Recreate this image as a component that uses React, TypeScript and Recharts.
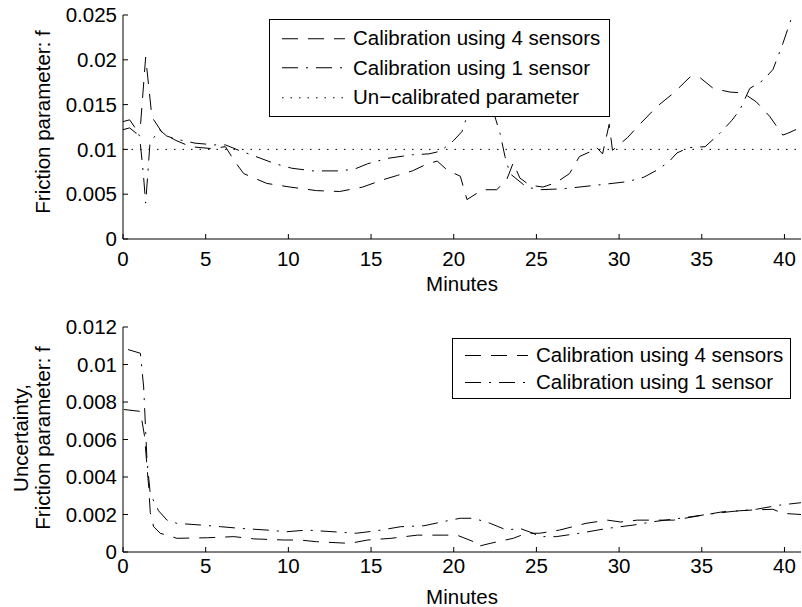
import React from 'react';
import { LineChart, Line, XAxis, YAxis, Legend } from 'recharts';

// minutes / friction values
const fourTopMin = [0, 0.4, 0.8, 1.05, 1.37, 1.75, 2.4, 3.2, 4.1, 5.3, 6.2, 6.7, 7.3, 8.7, 10.1, 11.7, 13.1, 14.5, 15.7, 16.6, 17.5, 18.3, 19.0, 19.6, 20.4, 20.8, 21.4, 21.8, 22.6, 23.2, 23.6, 24.0, 24.6, 25.4, 26.2, 27.0, 27.6, 28.2, 28.6, 29.0, 29.4, 29.6, 30.5, 31.3, 32.3, 33.3, 34.3, 34.9, 35.7, 36.7, 37.5, 38.3, 39.1, 39.9, 40.2, 40.8];
const fourTopF = [0.0122, 0.0124, 0.0118, 0.0125, 0.0203, 0.0136, 0.0118, 0.011, 0.0103, 0.0101, 0.0103, 0.0088, 0.0073, 0.0062, 0.0058, 0.0054, 0.0053, 0.0058, 0.0066, 0.0071, 0.0076, 0.0083, 0.0087, 0.0077, 0.007, 0.0044, 0.0051, 0.0055, 0.0055, 0.0066, 0.0085, 0.0068, 0.006, 0.0058, 0.0063, 0.0073, 0.0092, 0.0097, 0.0103, 0.0095, 0.0128, 0.0099, 0.0113, 0.0129, 0.0148, 0.0163, 0.0181, 0.018, 0.0168, 0.0164, 0.0163, 0.0153, 0.0137, 0.0116, 0.0118, 0.0123];

const oneTopMin = [0, 0.4, 0.7, 1.0, 1.23, 1.37, 1.5, 1.63, 2.2, 2.64, 3.1, 4.35, 5.56, 6.2, 7.0, 7.75, 9.2, 10.2, 11.5, 13.1, 14.0, 14.8, 16.0, 17.5, 18.5, 19.2, 20.0, 20.5, 20.8, 21.5, 22.0, 22.4, 22.8, 23.1, 23.4, 24.4, 25.2, 26.6, 28.6, 30.5, 31.5, 32.3, 33.0, 33.5, 34.2, 35.2, 36.1, 36.8, 37.3, 37.9, 38.7, 39.3, 39.9, 40.45, 40.7];
const oneTopF = [0.0131, 0.0133, 0.0125, 0.0115, 0.0073, 0.004, 0.0073, 0.0107, 0.0122, 0.0115, 0.0112, 0.0107, 0.0105, 0.0105, 0.0099, 0.0094, 0.0084, 0.0079, 0.0076, 0.0076, 0.0078, 0.0084, 0.009, 0.0094, 0.0095, 0.0098, 0.011, 0.012, 0.0137, 0.0152, 0.0155, 0.0142, 0.0118, 0.0092, 0.0073, 0.0058, 0.0055, 0.0056, 0.006, 0.0064, 0.0069, 0.0077, 0.0086, 0.0096, 0.0102, 0.0103, 0.0118, 0.0132, 0.0144, 0.0168, 0.0177, 0.0189, 0.0218, 0.0248, 0.0262];

const uncalMin = [0, 41];
const uncalF = [0.01, 0.01];

const fourBotMin = [0.05, 1.05, 1.3, 1.55, 1.65, 1.85, 2.25, 3.26, 5.1, 6.7, 7.9, 9.7, 10.7, 11.7, 13.7, 14.8, 16.2, 17.8, 19.4, 20.2, 21.2, 21.4, 22.2, 23.6, 24.4, 25.2, 26.4, 28.0, 29.3, 30.1, 31.1, 33.3, 34.5, 36.3, 38.1, 39.3, 39.9, 41];
const fourBotU = [0.0076, 0.0075, 0.0062, 0.0035, 0.0021, 0.00135, 0.001, 0.00073, 0.00076, 0.00082, 0.0007, 0.00064, 0.00064, 0.00055, 0.00046, 0.00064, 0.00073, 0.0009, 0.0009, 0.0009, 0.00055, 0.00028, 0.00046, 0.00073, 0.001, 0.001, 0.00117, 0.00153, 0.0017, 0.0016, 0.0017, 0.0017, 0.00188, 0.00215, 0.00224, 0.00228, 0.00206, 0.002];

const oneBotMin = [0.3, 1.05, 1.25, 1.45, 1.65, 2.15, 2.66, 3.26, 4.67, 5.9, 7.1, 8.7, 9.9, 11.1, 12.7, 14.1, 15.4, 16.8, 18.2, 19.8, 20.4, 21.2, 22.2, 23.2, 24.0, 24.8, 25.2, 26.2, 27.6, 29.3, 30.9, 32.1, 33.7, 35.3, 36.7, 38.3, 39.7, 41];
const oneBotU = [0.0108, 0.0106, 0.0088, 0.0049, 0.0031, 0.0022, 0.0017, 0.00153, 0.00144, 0.00135, 0.00126, 0.00117, 0.00108, 0.00117, 0.00108, 0.001, 0.00114, 0.00135, 0.0014, 0.0017, 0.0018, 0.0018, 0.00153, 0.00117, 0.00126, 0.001, 0.00082, 0.00082, 0.001, 0.00126, 0.00144, 0.00162, 0.0018, 0.002, 0.00215, 0.00228, 0.0025, 0.00263];

const seriesNames = ['Calibration using 4 sensors', 'Calibration using 1 sensor', 'Un−calibrated parameter'];
const xTicks = [0, 5, 10, 15, 20, 25, 30, 35, 40];
const topYTicks = [0, 0.005, 0.01, 0.015, 0.02, 0.025];
const botYTicks = [0, 0.002, 0.004, 0.006, 0.008, 0.01, 0.012];

const zip = (t: number[], f: number[]) => t.map((v, i) => ({ t: v, f: f[i] }));

const FONT = '"Liberation Sans", Arial, Helvetica, sans-serif';
const FS = 20.5;
const DASHED = '16 10';
const DASHDOT = '16 8 2 8';
const DOTTED = '1.5 7';

const BottomTick = (props: any) => {
  const { x, y, payload, gap } = props;
  return (
    <g>
      <line x1={x} x2={x} y1={y} y2={y - 5} stroke="#000" />
      <text x={x} y={y + gap} dy="0.71em" textAnchor="middle" fontSize={FS} fill="#000" fontFamily={FONT}>
        {String(payload.value)}
      </text>
    </g>
  );
};

const LeftTick = (props: any) => {
  const { x, y, payload } = props;
  return (
    <g>
      <line x1={x} x2={x + 5} y1={y} y2={y} stroke="#000" />
      <text x={x - 6} y={y} dy="0.35em" textAnchor="end" fontSize={FS} fill="#000" fontFamily={FONT}>
        {String(payload.value)}
      </text>
    </g>
  );
};

const TopTick = (props: any) => (
  <line x1={props.x} x2={props.x} y1={props.y} y2={props.y + 5} stroke="#000" />
);

const RightTick = (props: any) => (
  <line x1={props.x} x2={props.x - 5} y1={props.y} y2={props.y} stroke="#000" />
);

const legendBox = (rowH: number, padTop: number) => (props: any) => {
  const items = [...props.payload].sort(
    (a: any, b: any) => seriesNames.indexOf(a.value) - seriesNames.indexOf(b.value)
  );
  return (
    <div
      style={{
        background: '#fff',
        border: '1px solid #000',
        boxSizing: 'border-box',
        paddingTop: padTop,
        paddingBottom: padTop,
        fontFamily: FONT,
        fontSize: FS,
        color: '#000',
      }}
    >
      {items.map((e: any) => (
        <div key={e.value} style={{ height: rowH, display: 'flex', alignItems: 'center' }}>
          <svg width={83} height={rowH} style={{ flex: 'none' }}>
            <line x1={12} x2={75} y1={rowH / 2} y2={rowH / 2} stroke="#000" strokeDasharray={e.payload.strokeDasharray} />
          </svg>
          <span style={{ whiteSpace: 'nowrap' }}>{e.value}</span>
        </div>
      ))}
    </div>
  );
};

const yLabel = (lines: string[], nudge: number) => (props: any) => {
  const vb = props.viewBox;
  const cy = vb.y + vb.height / 2 + nudge;
  const xs = lines.length === 1 ? [50] : [28, 50];
  return (
    <g>
      {lines.map((s, i) => (
        <text
          key={s}
          x={xs[i]}
          y={cy}
          transform={`rotate(-90 ${xs[i]} ${cy})`}
          textAnchor="middle"
          fontSize={FS}
          fill="#000"
          fontFamily={FONT}
        >
          {s}
        </text>
      ))}
    </g>
  );
};

function Frame({ yTicks, yMax, tickGap, label, labelNudge }: any) {
  return [
    <XAxis
      key="xb"
      type="number"
      dataKey="t"
      domain={[0, 41]}
      ticks={xTicks}
      interval={0}
      height={30}
      tickSize={0}
      tickMargin={0}
      tickLine={false}
      tick={<BottomTick gap={tickGap} />}
      axisLine={{ stroke: '#000' }}
      label={{ value: 'Minutes', position: 'bottom', offset: 7, fill: '#000', fontSize: FS, fontFamily: FONT }}
    />,
    <XAxis
      key="xt"
      xAxisId="top"
      orientation="top"
      type="number"
      dataKey="t"
      domain={[0, 41]}
      ticks={xTicks}
      interval={0}
      height={0}
      tickSize={0}
      tickMargin={0}
      tickLine={false}
      tick={<TopTick />}
      axisLine={{ stroke: '#000' }}
    />,
    <YAxis
      key="yl"
      type="number"
      domain={[0, yMax]}
      ticks={yTicks}
      interval={0}
      allowDataOverflow
      width={123}
      tickSize={0}
      tickMargin={0}
      tickLine={false}
      tick={<LeftTick />}
      axisLine={{ stroke: '#000' }}
      label={{ content: yLabel(label, labelNudge) }}
    />,
    <YAxis
      key="yr"
      yAxisId="right"
      orientation="right"
      type="number"
      domain={[0, yMax]}
      ticks={yTicks}
      interval={0}
      allowDataOverflow
      width={0}
      tickSize={0}
      tickMargin={0}
      tickLine={false}
      tick={<RightTick />}
      axisLine={{ stroke: '#000' }}
    />,
  ];
}

export default function App() {
  return (
    <div style={{ position: 'absolute', left: 0, top: 0, width: 802, height: 607, background: '#fff', fontFamily: FONT }}>
      <LineChart width={802} height={300} margin={{ top: 15, right: 1, bottom: 31, left: 0 }}>
        {Frame({ yTicks: topYTicks, yMax: 0.025, tickGap: 12, label: ['Friction parameter: f'], labelNudge: -5 })}
        <Line data={zip(fourTopMin, fourTopF)} dataKey="f" name={seriesNames[0]} type="linear" stroke="#000" strokeWidth={1} strokeDasharray={DASHED} dot={false} isAnimationActive={false} />
        <Line data={zip(oneTopMin, oneTopF)} dataKey="f" name={seriesNames[1]} type="linear" stroke="#000" strokeWidth={1} strokeDasharray={DASHDOT} dot={false} isAnimationActive={false} />
        <Line data={zip(uncalMin, uncalF)} dataKey="f" name={seriesNames[2]} type="linear" stroke="#000" strokeWidth={1} strokeDasharray={DOTTED} dot={false} isAnimationActive={false} />
        <Legend
          layout="vertical"
          align="center"
          verticalAlign="middle"
          content={legendBox(29.5, 3.5)}
          wrapperStyle={{ left: 269, top: 19, width: 341 }}
        />
      </LineChart>
      <LineChart width={802} height={307} margin={{ top: 27, right: 1, bottom: 25, left: 0 }}>
        {Frame({ yTicks: botYTicks, yMax: 0.012, tickGap: 6, label: ['Uncertainty,', 'Friction parameter: f'], labelNudge: -1.5 })}
        <Line data={zip(fourBotMin, fourBotU)} dataKey="f" name={seriesNames[0]} type="linear" stroke="#000" strokeWidth={1} strokeDasharray={DASHED} dot={false} isAnimationActive={false} />
        <Line data={zip(oneBotMin, oneBotU)} dataKey="f" name={seriesNames[1]} type="linear" stroke="#000" strokeWidth={1} strokeDasharray={DASHDOT} dot={false} isAnimationActive={false} />
        <Legend
          layout="vertical"
          align="center"
          verticalAlign="middle"
          content={legendBox(27, 2.5)}
          wrapperStyle={{ left: 452, top: 38, width: 339 }}
        />
      </LineChart>
    </div>
  );
}
